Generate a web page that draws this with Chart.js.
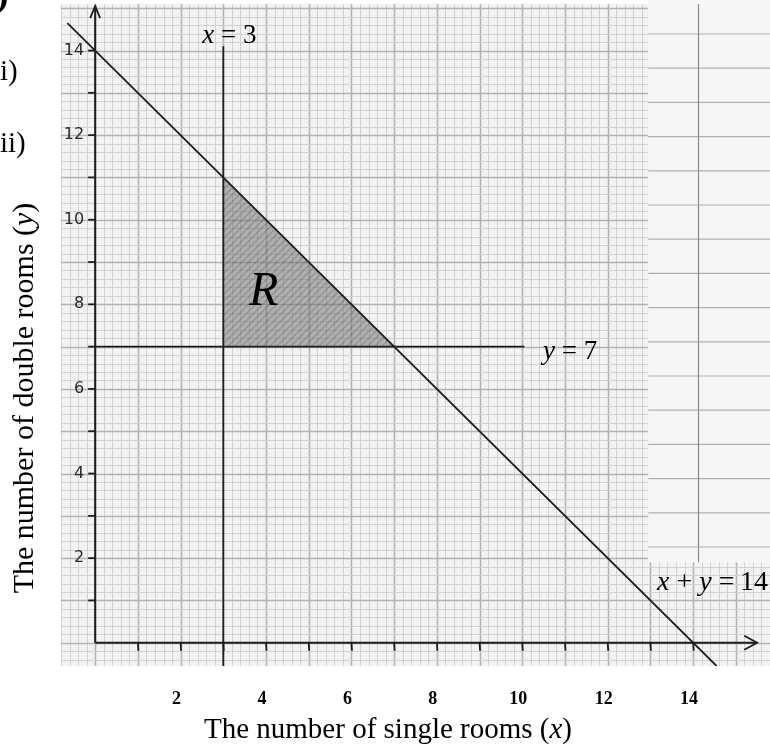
<!DOCTYPE html>
<html>
<head>
<meta charset="utf-8">
<script src="https://cdn.jsdelivr.net/npm/chart.js@4.4.0/dist/chart.umd.min.js"></script>
<style>
  html, body { margin: 0; padding: 0; background: #fff; }
  #wrap { width: 770px; height: 747px; }
</style>
</head>
<body>
<div id="wrap"><canvas id="chart" width="770" height="747"></canvas></div>
<script>
// tick values
const X_LABELS = [2, 4, 6, 8, 10, 12, 14];
const Y_LABELS = [2, 4, 6, 8, 10, 12, 14];
const X_MARKS = [1, 2, 3, 4, 5, 6, 7, 8, 9, 10, 11, 12, 13, 14];
const Y_MARKS = [1, 2, 3, 4, 5, 6, 7, 8, 9, 10, 11, 12, 13, 14];

// the hand drawn lines
const lineX3 = [{x: 3, y: -0.55}, {x: 3, y: 14.1}];
const lineY7 = [{x: 0, y: 7}, {x: 10.05, y: 7}];
const lineSum = [{x: -0.65, y: 14.65}, {x: 14.55, y: -0.55}];
// region R: top edge, filled down to y = 7
const regionEdge = [{x: 3, y: 11}, {x: 7, y: 7}];
// axes
const xAxisLine = [{x: 0, y: 0}, {x: 15.5, y: 0}];
const yAxisLine = [{x: 0, y: 0}, {x: 0, y: 15.05}];

// where the squared paper ends (the rest is lined paper)
const paper = {xMin: -0.8, xSplit: 12.95, xMax: 15.8, yMin: -0.55, ySplit: 1.9, yMax: 15.1};

const INK = '#1e1e1e';
const SERIF = '"Liberation Serif", "Times New Roman", serif';

const canvas = document.getElementById('chart');
const ctx = canvas.getContext('2d');

function makeHatch() {
  const c = document.createElement('canvas');
  c.width = 7;
  c.height = 7;
  const g = c.getContext('2d');
  g.fillStyle = 'rgba(110,110,110,0.5)';
  g.fillRect(0, 0, 7, 7);
  g.strokeStyle = 'rgba(60,60,60,0.25)';
  g.lineWidth = 1.4;
  g.beginPath();
  g.moveTo(0, 7); g.lineTo(7, 0);
  g.moveTo(-2, 2); g.lineTo(2, -2);
  g.moveTo(5, 9); g.lineTo(9, 5);
  g.stroke();
  return ctx.createPattern(c, 'repeat');
}

function richText(g, parts, x, y, size, align) {
  const fontOf = (p) => (p.i ? 'italic ' : '') + size + 'px ' + SERIF;
  let w = 0;
  parts.forEach((p) => { g.font = fontOf(p); w += g.measureText(p.t).width; });
  let cx = align === 'center' ? x - w / 2 : x;
  g.textAlign = 'left';
  parts.forEach((p) => {
    g.font = fontOf(p);
    g.fillText(p.t, cx, y);
    cx += g.measureText(p.t).width;
  });
}

const paperPlugin = {
  id: 'paper',
  beforeDatasetsDraw(chart) {
    const g = chart.ctx;
    const xs = chart.scales.x, ys = chart.scales.y;
    const px = (v) => xs.getPixelForValue(v);
    const py = (v) => ys.getPixelForValue(v);
    g.save();
    // squared paper background
    g.fillStyle = '#f3f3f3';
    g.fillRect(px(paper.xMin), py(paper.yMax), px(paper.xSplit) - px(paper.xMin), py(paper.yMin) - py(paper.yMax));
    g.fillRect(px(paper.xSplit), py(paper.ySplit), px(paper.xMax) - px(paper.xSplit), py(paper.yMin) - py(paper.ySplit));
    // lined paper
    g.fillStyle = '#f6f6f6';
    g.fillRect(px(paper.xSplit), 0, px(paper.xMax) - px(paper.xSplit), py(paper.ySplit));
    g.strokeStyle = '#b0b0b0';
    g.lineWidth = 1.2;
    for (let y = 34; y < py(paper.ySplit) - 4; y += 34.2) {
      g.beginPath();
      g.moveTo(px(paper.xSplit), y);
      g.lineTo(px(paper.xMax), y);
      g.stroke();
    }
    g.strokeStyle = '#8a8a8a';
    g.lineWidth = 1.2;
    g.beginPath();
    g.moveTo(698.5, 4);
    g.lineTo(698.5, py(paper.ySplit));
    g.stroke();

    // grid: 5 small squares per unit
    const step = 0.2;
    for (let i = Math.ceil(paper.xMin / step); i * step <= paper.xMax + 1e-9; i++) {
      const v = i * step;
      const major = i % 5 === 0;
      const top = v <= paper.xSplit ? paper.yMax : paper.ySplit;
      const x = Math.round(px(v)) + 0.5;
      g.strokeStyle = major ? '#b3b3b3' : '#d2d2d2';
      g.lineWidth = major ? 1.6 : 1;
      g.beginPath();
      g.moveTo(x, py(top));
      g.lineTo(x, py(paper.yMin));
      g.stroke();
    }
    for (let j = Math.ceil(paper.yMin / step); j * step <= paper.yMax + 1e-9; j++) {
      const v = j * step;
      const major = j % 5 === 0;
      const right = v <= paper.ySplit ? paper.xMax : paper.xSplit;
      const y = Math.round(py(v)) + 0.5;
      g.strokeStyle = major ? '#b3b3b3' : '#d2d2d2';
      g.lineWidth = major ? 1.6 : 1;
      g.beginPath();
      g.moveTo(px(paper.xMin), y);
      g.lineTo(px(right), y);
      g.stroke();
    }
    g.restore();
  },
  afterDatasetsDraw(chart) {
    const g = chart.ctx;
    const xs = chart.scales.x, ys = chart.scales.y;
    const x0 = xs.getPixelForValue(0), y0 = ys.getPixelForValue(0);
    g.save();
    g.strokeStyle = INK;
    g.lineWidth = 1.8;
    // tick marks
    X_MARKS.forEach((v) => {
      const x = xs.getPixelForValue(v);
      g.beginPath(); g.moveTo(x, y0); g.lineTo(x + 0.5, y0 + 8); g.stroke();
    });
    Y_MARKS.forEach((v) => {
      const y = ys.getPixelForValue(v);
      g.beginPath(); g.moveTo(x0 - 7, y); g.lineTo(x0, y); g.stroke();
    });
    // arrow heads
    const ax = xs.getPixelForValue(xAxisLine[1].x);
    g.beginPath(); g.moveTo(ax - 13, y0 - 7); g.lineTo(ax, y0); g.lineTo(ax - 13, y0 + 7); g.stroke();
    const ay = ys.getPixelForValue(yAxisLine[1].y);
    g.beginPath(); g.moveTo(x0 - 5, ay + 12); g.lineTo(x0, ay); g.lineTo(x0 + 5, ay + 12); g.stroke();

    g.fillStyle = '#000';
    g.textBaseline = 'alphabetic';
    // x tick labels (typed, bold)
    g.font = 'bold 18px ' + SERIF;
    g.textAlign = 'center';
    X_LABELS.forEach((v) => g.fillText(String(v), xs.getPixelForValue(v) - 4, 704));
    // y tick labels (hand written)
    g.font = '16px "DejaVu Sans", sans-serif';
    g.fillStyle = '#2a2a2a';
    g.textAlign = 'right';
    g.textBaseline = 'middle';
    Y_LABELS.forEach((v) => g.fillText(String(v), x0 - 11, ys.getPixelForValue(v)));

    g.fillStyle = '#000';
    g.textBaseline = 'alphabetic';
    // line labels
    richText(g, [{t: 'x', i: true}, {t: ' = 3'}], xs.getPixelForValue(3) - 21, 43, 27);
    richText(g, [{t: 'y', i: true}, {t: ' = 7'}], 543, ys.getPixelForValue(7) + 12, 27);
    richText(g, [{t: 'x', i: true}, {t: ' + '}, {t: 'y', i: true}, {t: ' =\u200914'}], 657, 590, 28);
    richText(g, [{t: 'R', i: true}], 249, 305, 48);

    // axis titles
    richText(g, [{t: 'The number of single rooms ('}, {t: 'x', i: true}, {t: ')'}], 388, 738, 29, 'center');
    g.save();
    g.translate(33, 398);
    g.rotate(-Math.PI / 2);
    richText(g, [{t: 'The number of double rooms ('}, {t: 'y', i: true}, {t: ')'}], 0, 0, 30, 'center');
    g.restore();

    // question numbers at the left edge
    g.font = 'bold 38px ' + SERIF;
    g.textAlign = 'left';
    g.fillText(')', -4, 6);
    g.font = '29px ' + SERIF;
    g.fillText('i)', 0, 80);
    g.fillText('ii)', 0, 152);
    g.restore();
  },
};

const lineStyle = {showLine: true, borderColor: INK, borderWidth: 1.8, pointRadius: 0, fill: false, order: 1};

new Chart(ctx, {
  type: 'scatter',
  data: {
    datasets: [
      {data: regionEdge, showLine: true, borderWidth: 0, borderColor: 'transparent', pointRadius: 0,
        backgroundColor: makeHatch(), fill: {value: 7}, order: 9},
      {...lineStyle, data: xAxisLine, borderWidth: 2},
      {...lineStyle, data: yAxisLine, borderWidth: 2},
      {...lineStyle, data: lineX3},
      {...lineStyle, data: lineY7},
      {...lineStyle, data: lineSum},
    ],
  },
  options: {
    responsive: false,
    animation: false,
    devicePixelRatio: 1,
    layout: {padding: {left: 61, top: 4, right: 0, bottom: 81}},
    scales: {
      x: {type: 'linear', min: paper.xMin, max: paper.xMax, display: false},
      y: {type: 'linear', min: paper.yMin, max: paper.yMax, display: false},
    },
    plugins: {legend: {display: false}, tooltip: {enabled: false}},
  },
  plugins: [paperPlugin],
});
</script>
</body>
</html>
